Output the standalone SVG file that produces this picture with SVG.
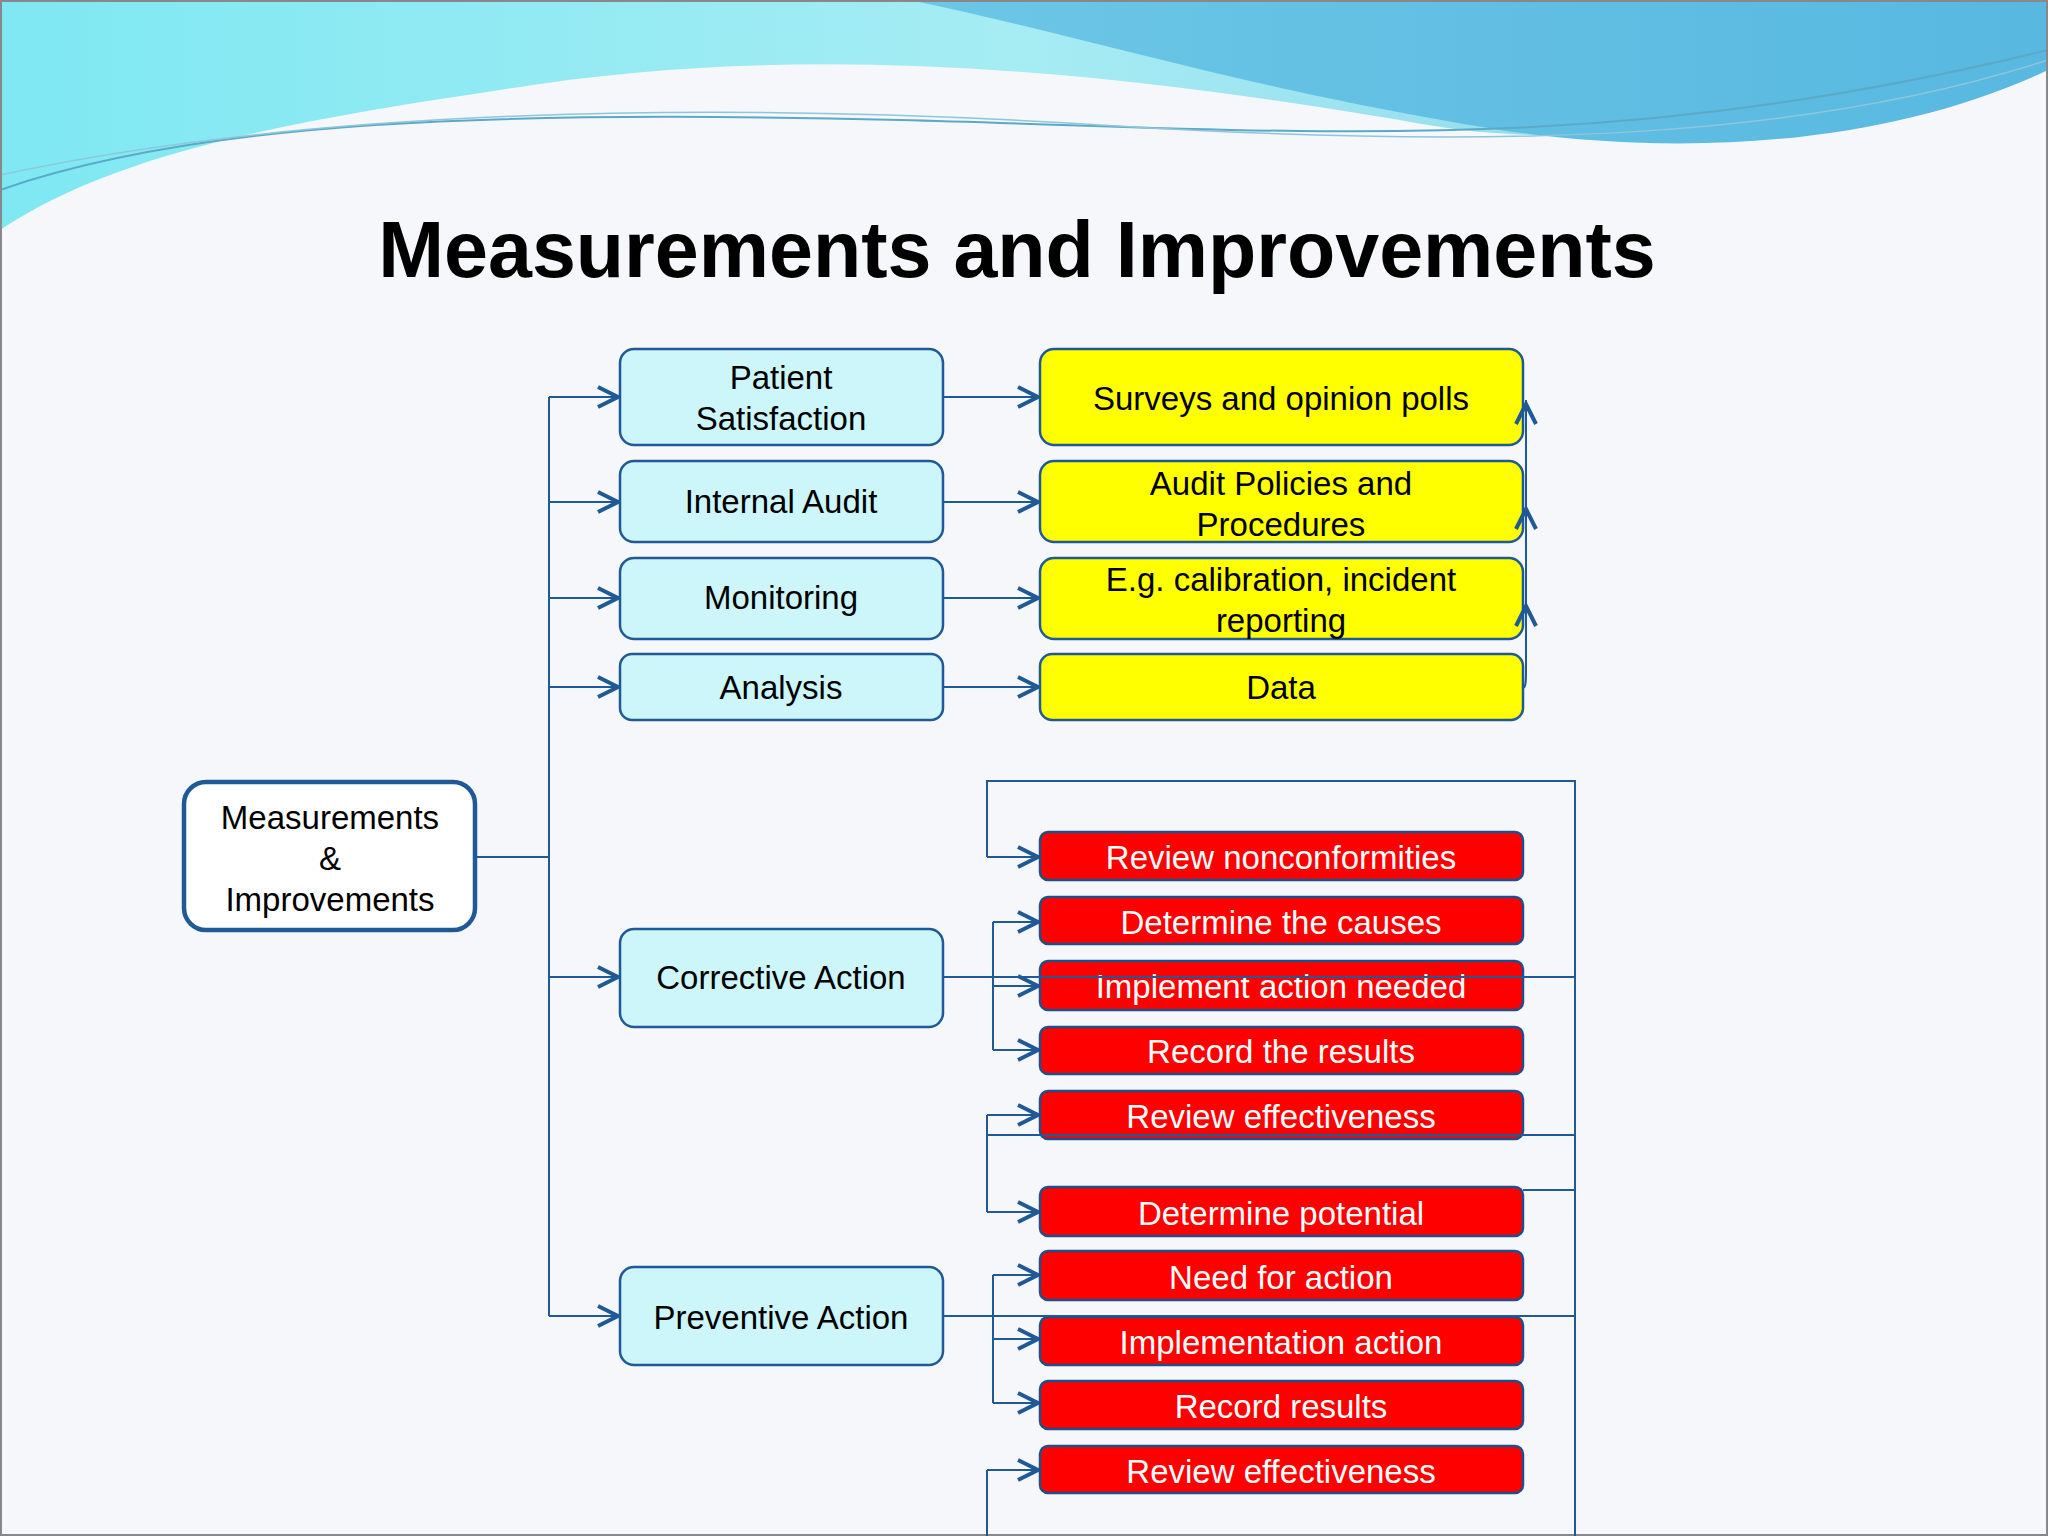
<svg xmlns="http://www.w3.org/2000/svg" width="2048" height="1536" viewBox="0 0 2048 1536">
<defs>
<linearGradient id="wv" x1="0" y1="0" x2="1" y2="0"><stop offset="0" stop-color="#7ee8f2"/><stop offset="0.5" stop-color="#a6ecf3"/><stop offset="1" stop-color="#88d0ea"/></linearGradient>
<linearGradient id="wv2" x1="0" y1="0" x2="1" y2="0"><stop offset="0" stop-color="#6cc6e6"/><stop offset="1" stop-color="#58b8e0"/></linearGradient>
<marker id="ar" viewBox="0 0 26 26" refX="23" refY="13" markerWidth="26" markerHeight="26" markerUnits="userSpaceOnUse" orient="auto"><path d="M3 3 L23 13 L3 23" fill="none" stroke="#1f5a96" stroke-width="4"/></marker>
<style>
.c{fill:none;stroke:#1f5a96;stroke-width:2}
.b{fill:#ccf6fa;stroke:#1f5a96;stroke-width:2.5}
.y{fill:#ffff00;stroke:#1f5a96;stroke-width:2.5}
.r{fill:#ff0000;stroke:#1f4f8a;stroke-width:2.5}
.t{font-family:"Liberation Sans",Arial,sans-serif;font-size:33px;text-anchor:middle;fill:#000}
.w{font-family:"Liberation Sans",Arial,sans-serif;font-size:33px;text-anchor:middle;fill:#fff}
</style>
</defs>
<rect width="2048" height="1536" fill="#f6f7fa"/>
<path d="M0 0 H2048 V30 C1800 120 1600 160 1400 120 C1100 70 800 40 500 90 C300 120 120 150 0 230 Z" fill="url(#wv)"/>
<path d="M910 0 H2048 V70 C1900 140 1700 160 1500 130 C1250 90 1100 40 910 0 Z" fill="url(#wv2)"/>
<path d="M0 190 C200 120 500 110 900 120 C1300 130 1600 160 2048 50" fill="none" stroke="#5ba9c8" stroke-width="2"/>
<path d="M0 175 C300 110 700 100 1100 125 C1500 150 1800 140 2048 60" fill="none" stroke="#8fc6dc" stroke-width="1.5"/>
<rect x="1" y="1" width="2046" height="1534" fill="none" stroke="#888" stroke-width="2"/>
<text x="1017" y="277" font-family="Liberation Sans,Arial,sans-serif" font-size="79" font-weight="bold" text-anchor="middle" fill="#000">Measurements and Improvements</text>

<g id="connectors">
<path class="c" d="M475 857 H549 M549 397 V1316"/>
<path class="c" marker-end="url(#ar)" d="M549 397 H618"/>
<path class="c" marker-end="url(#ar)" d="M549 502 H618"/>
<path class="c" marker-end="url(#ar)" d="M549 598 H618"/>
<path class="c" marker-end="url(#ar)" d="M549 687 H618"/>
<path class="c" marker-end="url(#ar)" d="M549 977 H618"/>
<path class="c" marker-end="url(#ar)" d="M549 1316 H618"/>
<path class="c" marker-end="url(#ar)" d="M943 397 H1038"/>
<path class="c" marker-end="url(#ar)" d="M943 502 H1038"/>
<path class="c" marker-end="url(#ar)" d="M943 598 H1038"/>
<path class="c" marker-end="url(#ar)" d="M943 687 H1038"/>
<path class="c" d="M943 977 H1575 M1575 1536 V781 H987 V857"/>
<path class="c" marker-end="url(#ar)" d="M987 857 H1038"/>
<path class="c" d="M993 922 V1050"/>
<path class="c" marker-end="url(#ar)" d="M993 922 H1038"/>
<path class="c" marker-end="url(#ar)" d="M993 986 H1038"/>
<path class="c" marker-end="url(#ar)" d="M993 1050 H1038"/>
<path class="c" d="M987 1115 V1212 M987 1135 H1575 M1523 1190 H1575"/>
<path class="c" marker-end="url(#ar)" d="M987 1115 H1038"/>
<path class="c" marker-end="url(#ar)" d="M987 1212 H1038"/>
<path class="c" d="M943 1316 H1575 M993 1275 V1403"/>
<path class="c" marker-end="url(#ar)" d="M993 1275 H1038"/>
<path class="c" marker-end="url(#ar)" d="M993 1339 H1038"/>
<path class="c" marker-end="url(#ar)" d="M993 1403 H1038"/>
<path class="c" d="M987 1536 V1470"/>
<path class="c" marker-end="url(#ar)" d="M987 1470 H1038"/>
</g>

<g id="main"><rect x="184" y="782" width="291" height="148" rx="22" fill="#fff" stroke="#1f5a96" stroke-width="4.5"/>
<text class="t" x="330" y="829">Measurements</text><text class="t" x="330" y="870">&amp;</text><text class="t" x="330" y="911">Improvements</text></g>
<g id="ps"><rect class="b" x="620" y="349" width="323" height="96" rx="14"/><text class="t" x="781" y="389">Patient</text><text class="t" x="781" y="430">Satisfaction</text></g>
<g id="ia"><rect class="b" x="620" y="461" width="323" height="81" rx="14"/><text class="t" x="781" y="513">Internal Audit</text></g>
<g id="mo"><rect class="b" x="620" y="558" width="323" height="81" rx="14"/><text class="t" x="781" y="609">Monitoring</text></g>
<g id="an"><rect class="b" x="620" y="654" width="323" height="66" rx="12"/><text class="t" x="781" y="699">Analysis</text></g>
<g id="ca"><rect class="b" x="620" y="929" width="323" height="98" rx="14"/><text class="t" x="781" y="989">Corrective Action</text></g>
<g id="pa"><rect class="b" x="620" y="1267" width="323" height="98" rx="14"/><text class="t" x="781" y="1329">Preventive Action</text></g>

<g id="y1"><rect class="y" x="1040" y="349" width="483" height="96" rx="14"/><text class="t" x="1281" y="410">Surveys and opinion polls</text></g>
<g id="y2"><rect class="y" x="1040" y="461" width="483" height="81" rx="14"/><text class="t" x="1281" y="495">Audit Policies and</text><text class="t" x="1281" y="536">Procedures</text></g>
<g id="y3"><rect class="y" x="1040" y="558" width="483" height="81" rx="14"/><text class="t" x="1281" y="591">E.g. calibration, incident</text><text class="t" x="1281" y="632">reporting</text></g>
<g id="y4"><rect class="y" x="1040" y="654" width="483" height="66" rx="12"/><text class="t" x="1281" y="699">Data</text></g>

<g id="r1"><rect class="r" x="1040" y="832" width="483" height="48" rx="8"/><text class="w" x="1281" y="869">Review nonconformities</text></g>
<g id="r2"><rect class="r" x="1040" y="897" width="483" height="47" rx="8"/><text class="w" x="1281" y="934">Determine the causes</text></g>
<g id="r3"><rect class="r" x="1040" y="961" width="483" height="49" rx="8"/><text class="w" x="1281" y="998">Implement action needed</text></g>
<g id="r4"><rect class="r" x="1040" y="1027" width="483" height="47" rx="8"/><text class="w" x="1281" y="1063">Record the results</text></g>
<g id="r5"><rect class="r" x="1040" y="1091" width="483" height="48" rx="8"/><text class="w" x="1281" y="1128">Review effectiveness</text></g>
<g id="r6"><rect class="r" x="1040" y="1187" width="483" height="49" rx="8"/><text class="w" x="1281" y="1225">Determine potential</text></g>
<g id="r7"><rect class="r" x="1040" y="1251" width="483" height="49" rx="8"/><text class="w" x="1281" y="1289">Need for action</text></g>
<g id="r8"><rect class="r" x="1040" y="1317" width="483" height="48" rx="8"/><text class="w" x="1281" y="1354">Implementation action</text></g>
<g id="r9"><rect class="r" x="1040" y="1381" width="483" height="48" rx="8"/><text class="w" x="1281" y="1418">Record results</text></g>
<g id="r10"><rect class="r" x="1040" y="1446" width="483" height="47" rx="8"/><text class="w" x="1281" y="1483">Review effectiveness</text></g>
<g id="connectors-over">
<path class="c" d="M943 977 H1575 M987 1135 H1575 M943 1316 H1575"/>
<path class="c" d="M1523 688 C1526 688 1526 680 1526 670 V400"/>
<path class="c" marker-end="url(#ar)" d="M1526 440 V404"/>
<path class="c" marker-end="url(#ar)" d="M1526 545 V509"/>
<path class="c" marker-end="url(#ar)" d="M1526 642 V606"/>
</g>
</svg>
